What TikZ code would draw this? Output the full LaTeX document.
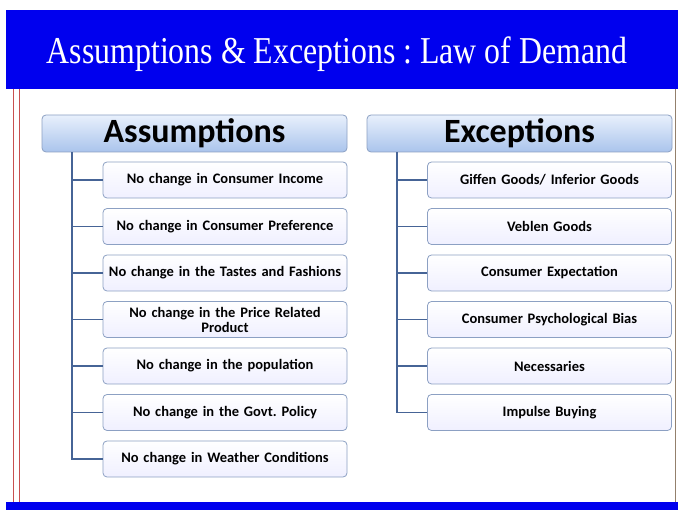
\documentclass[tikz,border=0pt]{standalone}
\usepackage{fontspec}
\setmainfont{Carlito}
\newfontfamily\titlefont{Liberation Serif}
\usetikzlibrary{positioning}
\frenchspacing
\definecolor{band}{RGB}{0,0,238}
\definecolor{trunk}{RGB}{70,100,150}
\definecolor{boxline}{RGB}{140,160,195}
\definecolor{hdtop}{RGB}{232,240,252}
\definecolor{hdbot}{RGB}{170,196,236}
\definecolor{redline}{RGB}{200,80,80}
\tikzset{
  hdr/.style={draw=boxline, line width=0.8pt, rounded corners=4pt, top color=hdtop, bottom color=hdbot,
    minimum width=305pt, minimum height=37pt, inner sep=0pt, font=\fontsize{34}{36}\selectfont\bfseries},
  item/.style={draw=boxline, line width=0.8pt, rounded corners=4pt, top color=white, bottom color=white!94!blue,
    minimum width=244pt, minimum height=36pt, inner sep=1pt, align=center, text width=240pt,
    font=\fontsize{14.5}{15}\selectfont\bfseries},
  conn/.style={draw=trunk, line width=1.6pt}
}
\begin{document}
\begin{tikzpicture}[x=1pt,y=-1pt]
\useasboundingbox (0,0) rectangle (678,510);
\fill[white] (0,0) rectangle (678,510);
% bands
\fill[band] (6,10) rectangle (678,89);
\fill[band] (6,502) rectangle (678,510);
\draw[redline, line width=0.6pt] (13,89) -- (13,502);
\draw[redline, line width=0.6pt] (19,89) -- (19,502);
\draw[gray!70!brown, line width=0.8pt] (675,89) -- (675,502);
\node[text=white, font=\titlefont\fontsize{33}{36}\selectfont, xscale=0.965, yscale=1.15] (title) at (337,54) {Assumptions \& Exceptions : Law of Demand};
% headers
\node[hdr] (ha) at (194.5,133.5) {Assumptions};
\node[hdr] (he) at (519.5,133.5) {Exceptions};
% left items
\foreach \i/\t [count=\n] in {0/{No change in Consumer Income},1/{No change in Consumer Preference},2/{No change in the Tastes and Fashions},3/{No change in the Price Related\\Product},4/{No change in the population},5/{No change in the Govt. Policy},6/{No change in Weather Conditions}}{
  \node[item] (a\n) at (225,180+46.5*\i) {\t};
}
\foreach \i/\t [count=\n] in {0/{Giffen Goods/ Inferior Goods},1/{Veblen Goods},2/{Consumer Expectation},3/{Consumer Psychological Bias},4/{Necessaries},5/{Impulse Buying}}{
  \node[item] (e\n) at (549.5,180+46.5*\i) {\t};
}
\coordinate (ta) at (72,0);
\coordinate (te) at (397,0);
\draw[conn] (ha.south -| ta) -- (ta |- a7.west) -- (a7.west);
\foreach \n in {1,...,6} \draw[conn] (ta |- a\n.west) -- (a\n.west);
\draw[conn] (he.south -| te) -- (te |- e6.west) -- (e6.west);
\foreach \n in {1,...,5} \draw[conn] (te |- e\n.west) -- (e\n.west);
\end{tikzpicture}
\end{document}
